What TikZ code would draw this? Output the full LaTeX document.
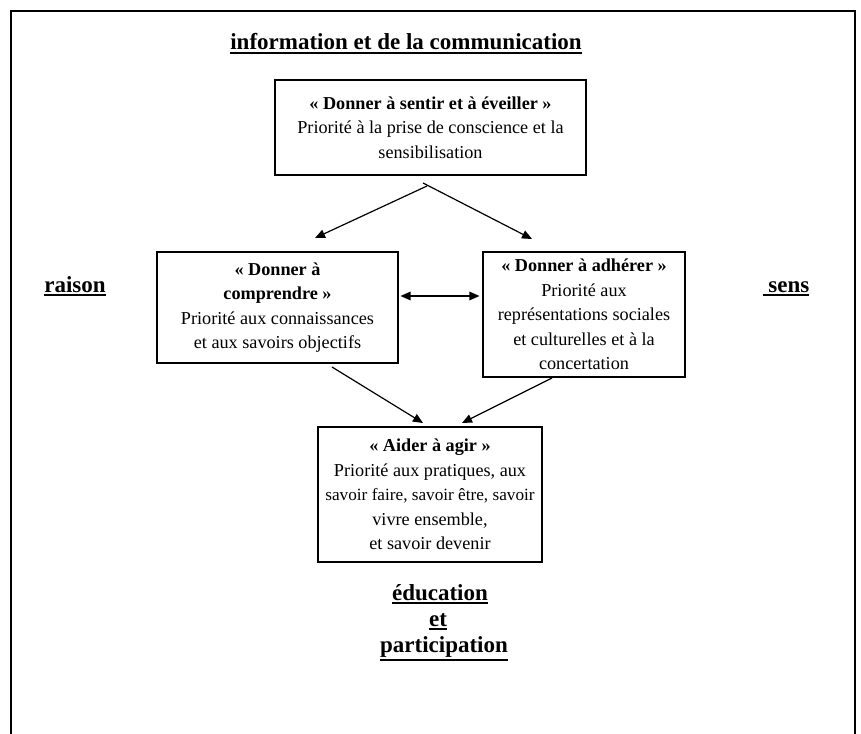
\documentclass[tikz,border=0pt]{standalone}
\usepackage{fontspec}
\setmainfont{Liberation Serif}
\usetikzlibrary{arrows.meta,calc}
\newcommand{\ulin}[1]{\leavevmode\vtop{\hbox{#1}\kern2pt\hrule height1.8pt}}
\begin{document}
\begin{tikzpicture}[x=1pt,y=-1pt,
 boxstyle/.style={draw, line width=1.1pt, inner sep=0pt, align=center, font=\fontsize{18.2}{24.5}\selectfont},
 lbl/.style={font=\bfseries\fontsize{23}{26}\selectfont, inner sep=0pt, align=center},
 arr/.style={line width=1.2pt, -{Triangle[length=10pt,width=8.5pt]}},
 darr/.style={line width=1.2pt, {Triangle[length=10pt,width=8.5pt]}-{Triangle[length=10pt,width=8.5pt]}},
 frame/.style={line width=2.4pt}
]
\useasboundingbox (0,0) rectangle (861,733);
\clip (0,0) rectangle (861,733);
\draw[frame] (11,745) -- (11,11) -- (855,11) -- (855,745);

\node[lbl, anchor=base] (title) at (406,50) {\ulin{information et de la communication}};
\node[lbl, anchor=base] (raison) at (75,292) {\ulin{raison}};
\node[lbl, anchor=base] (sens) at (786,292) {\ulin{\ sens}};
\node[lbl, anchor=base] (educ) at (440,600) {\ulin{éducation}};
\node[lbl, anchor=base] (et) at (438,626) {\ulin{et}};
\node[lbl, anchor=base] (partic) at (444,652) {\ulin{participation}};

\node[boxstyle, minimum width=311pt, minimum height=95pt] (top) at (430.5,127.5)
 {\textbf{« Donner à sentir et à éveiller »}\\Priorité à la prise de conscience et la\\sensibilisation};
\node[boxstyle, minimum width=241pt, minimum height=111pt] (left) at (277.5,307.5)
 {\textbf{« Donner à}\\\textbf{comprendre »}\\Priorité aux connaissances\\et aux savoirs objectifs};
\node[boxstyle, minimum width=202pt, minimum height=125pt] (right) at (584,314.5)
 {\textbf{« Donner à adhérer »}\\Priorité aux\\représentations sociales\\et culturelles et à la\\concertation};
\node[boxstyle, minimum width=224pt, minimum height=135pt] (bottom) at (430,494.5)
 {\textbf{« Aider à agir »}\\Priorité aux pratiques, aux\\{\fontsize{17.2}{24.5}\selectfont savoir faire, savoir être, savoir}\\vivre ensemble,\\et savoir devenir};

\coordinate (apexL) at (427,186);
\coordinate (apexR) at (423,183);
\coordinate (tipL) at (315,238);
\coordinate (tipR) at (532,239);
\coordinate (dbl) at (0,296);
\coordinate (fromL) at (332,367);
\coordinate (fromR) at (552,378);
\coordinate (tipBL) at (423,423);
\coordinate (tipBR) at (462,423);

\draw[arr] (apexL) -- (tipL);
\draw[arr] (apexR) -- (tipR);
\draw[darr] ($(left.east |- dbl)+(2,0)$) -- ($(right.west |- dbl)+(-3,0)$);
\draw[arr] (fromL) -- (tipBL);
\draw[arr] (fromR) -- (tipBR);
\end{tikzpicture}
\end{document}
